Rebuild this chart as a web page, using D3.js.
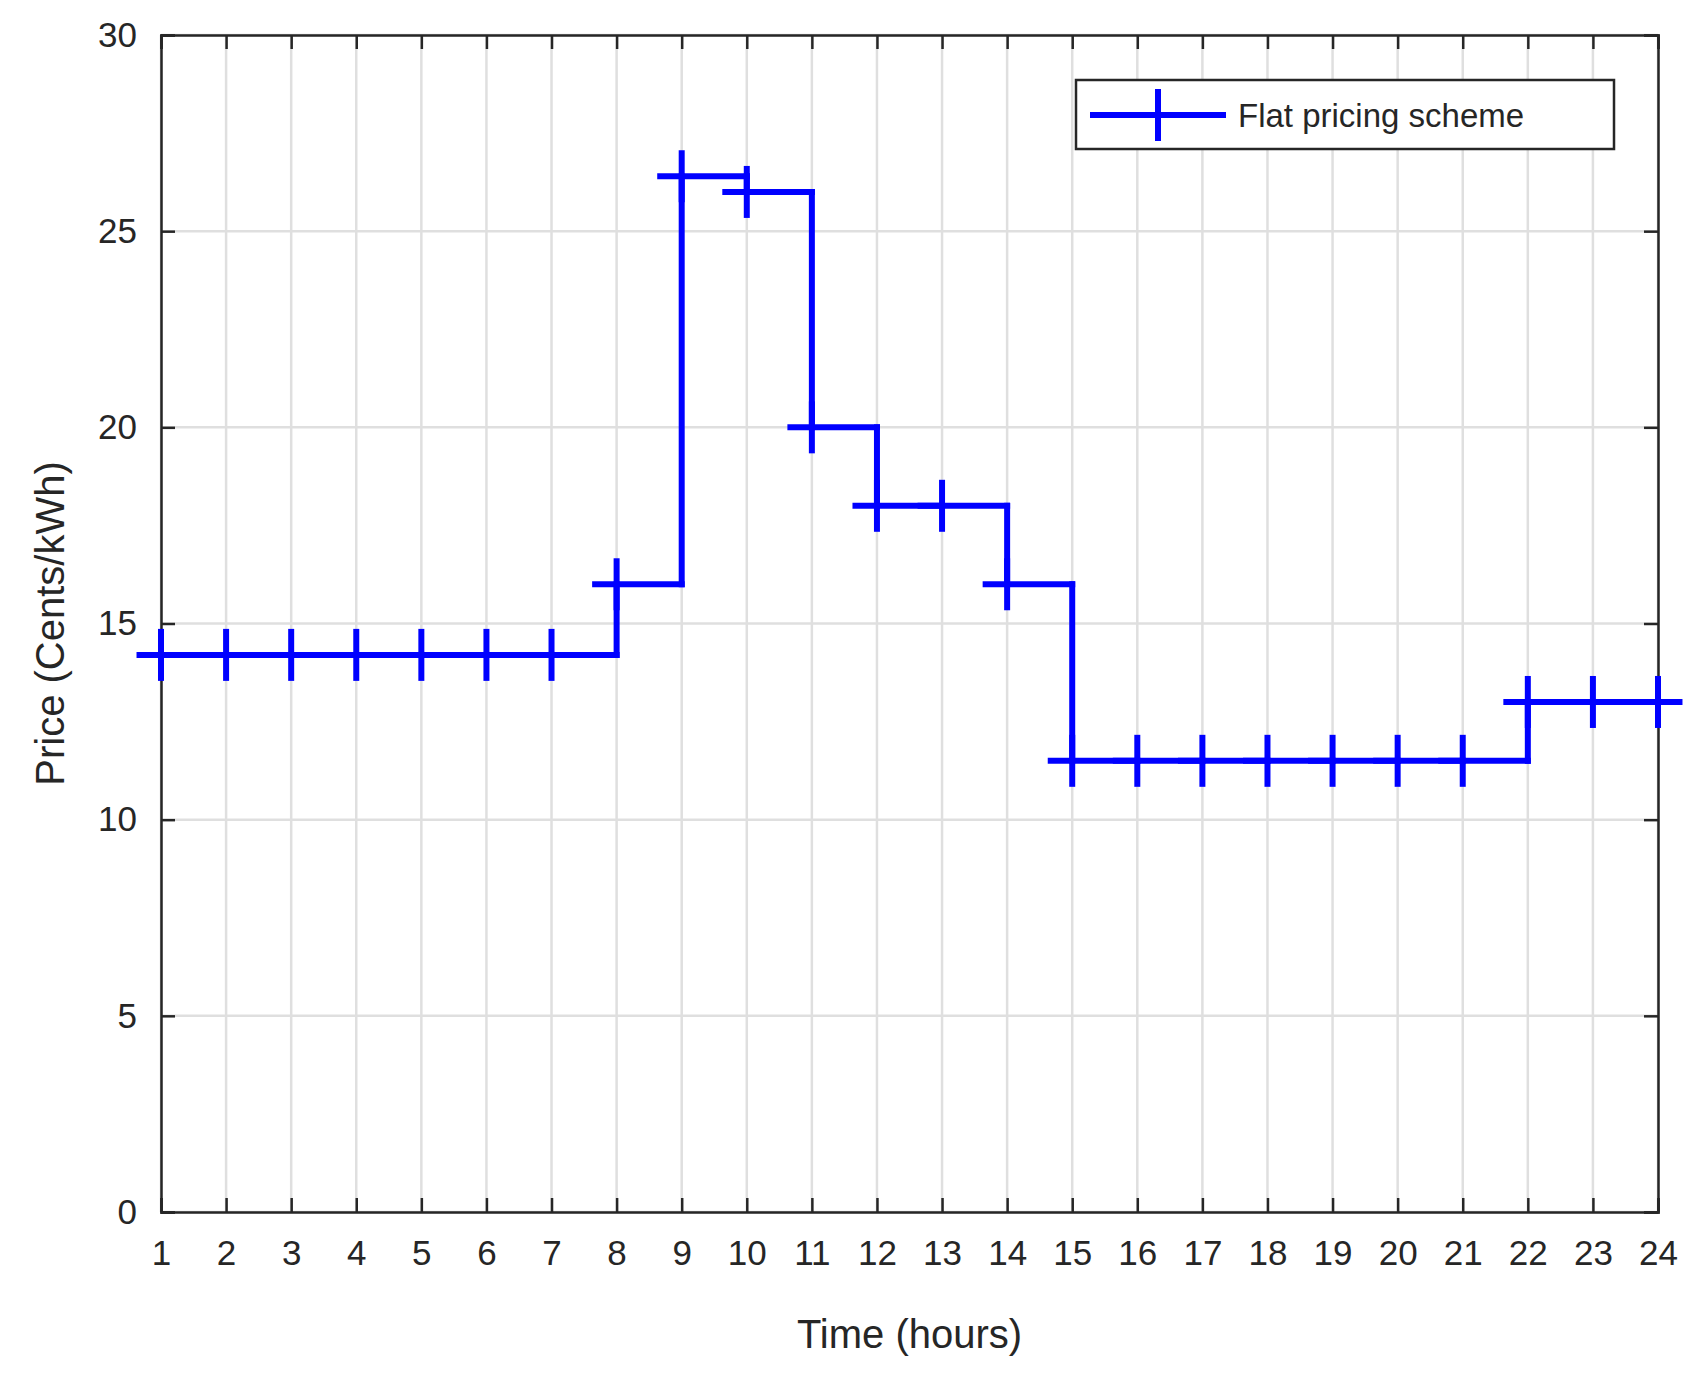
<!DOCTYPE html>
<head>
<meta charset="utf-8">
<script src="https://d3js.org/d3.v7.min.js"></script>
<style>body{margin:0;background:#fff} text{font-family:"Liberation Sans",Arial,sans-serif;fill:#262626}</style>
</head>
<body>
<svg width="1705" height="1373"></svg>
<script>
var hours = d3.range(1, 25);
var price = [14.2,14.2,14.2,14.2,14.2,14.2,14.2,16,26.4,26,20,18,18,16,11.5,11.5,11.5,11.5,11.5,11.5,11.5,13,13,13];
var yTicks = [0,5,10,15,20,25,30];

var m = {l:161, r:1658, t:35, b:1212};
var svg = d3.select("svg");
var x = d3.scaleLinear().domain([1,24]).range([m.l, m.r]);
var y = d3.scaleLinear().domain([0,30]).range([m.b, m.t]);

// grid
svg.append("g").selectAll("line").data(hours).enter().append("line")
  .attr("x1", d => x(d)).attr("x2", d => x(d)).attr("y1", m.t).attr("y2", m.b)
  .attr("stroke", "#dfdfdf").attr("stroke-width", 2.5);
svg.append("g").selectAll("line").data(yTicks).enter().append("line")
  .attr("x1", m.l).attr("x2", m.r).attr("y1", d => y(d)).attr("y2", d => y(d))
  .attr("stroke", "#dfdfdf").attr("stroke-width", 2.5);

// axes
var ax = svg.append("g").attr("transform", "translate(0," + m.b + ")")
  .call(d3.axisBottom(x).tickValues(hours).tickSize(-14).tickPadding(28));
var axT = svg.append("g").attr("transform", "translate(0," + m.t + ")")
  .call(d3.axisTop(x).tickValues(hours).tickSize(-14).tickFormat(""));
var ay = svg.append("g").attr("transform", "translate(" + m.l + ",0)")
  .call(d3.axisLeft(y).tickValues(yTicks).tickSize(-14).tickPadding(24));
var ayR = svg.append("g").attr("transform", "translate(" + m.r + ",0)")
  .call(d3.axisRight(y).tickValues(yTicks).tickSize(-14).tickFormat(""));
[ax, axT, ay, ayR].forEach(function(g){
  g.selectAll("path").attr("stroke", "#262626").attr("stroke-width", 2.5);
  g.selectAll("line").attr("stroke", "#262626").attr("stroke-width", 2.5);
  g.selectAll("text").style("font-size", "35px").attr("fill", "#262626");
});

// stair line
var pts = [];
price.forEach(function(v, i){
  var h = hours[i];
  pts.push([h - 0.33, v]);
  var end = i < price.length - 1 ? h + 1 : h + 0.33;
  pts.push([end, v]);
  if (i < price.length - 1) pts.push([end, price[i+1]]);
});
pts = [];
price.forEach(function(v, i){
  var h = hours[i];
  var end = i < price.length - 1 ? h + 1 : h + 0.33;
  pts.push([[h - 0.33, v], [end, v]]);
  if (i < price.length - 1) pts.push([[end, v], [end, price[i+1]]]);
});
var line = d3.line().x(d => x(d[0])).y(d => y(d[1]));
svg.append("g").selectAll("path").data(pts).enter().append("path")
  .attr("d", line).attr("stroke", "#0000ff").attr("stroke-width", 6)
  .attr("fill", "none").attr("stroke-linecap", "square");
svg.append("g").selectAll("line").data(price).enter().append("line")
  .attr("x1", (d,i) => x(hours[i])).attr("x2", (d,i) => x(hours[i]))
  .attr("y1", d => y(d) - 26).attr("y2", d => y(d) + 26)
  .attr("stroke", "#0000ff").attr("stroke-width", 6);

// legend
var lg = svg.append("g");
lg.append("rect").attr("x", 1076).attr("y", 80).attr("width", 538).attr("height", 69)
  .attr("fill", "#fff").attr("stroke", "#262626").attr("stroke-width", 2.5);
lg.append("line").attr("x1", 1090).attr("x2", 1226).attr("y1", 115).attr("y2", 115)
  .attr("stroke", "#0000ff").attr("stroke-width", 6);
lg.append("line").attr("x1", 1158).attr("x2", 1158).attr("y1", 89).attr("y2", 141)
  .attr("stroke", "#0000ff").attr("stroke-width", 6);
lg.append("text").attr("x", 1238).attr("y", 127).style("font-size", "33px").text("Flat pricing scheme");

// labels
svg.append("text").attr("x", (m.l + m.r) / 2).attr("y", 1348).attr("text-anchor", "middle")
  .style("font-size", "40px").text("Time (hours)");
svg.append("text").attr("transform", "translate(64," + (m.t + m.b) / 2 + ") rotate(-90)")
  .attr("text-anchor", "middle").style("font-size", "40px").text("Price (Cents/kWh)");
</script>
</body>
</html>
